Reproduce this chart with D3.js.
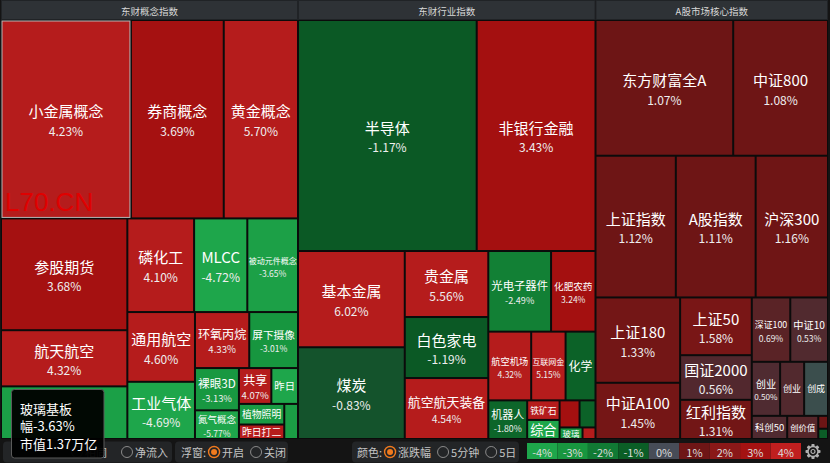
<!DOCTYPE html>
<html>
<head>
<meta charset="utf-8">
<script src="https://cdn.jsdelivr.net/npm/d3@7"></script>
<style>
html, body { margin: 0; padding: 0; background: #141414; }
svg { display: block; font-family: "Noto Sans CJK SC", "Noto Sans", sans-serif; }
</style>
</head>
<body>
<svg id="chart" width="830" height="463"></svg>
<script>
// ---- data ----
const panelTitles = ['东财概念指数', '东财行业指数', 'A股市场核心指数']

const conceptNames = ['小金属概念', '券商概念', '黄金概念', '参股期货', '航天航空', '玻璃基板', '磷化工', 'MLCC', '被动元件概念', '通用航空',
  '工业气体', '环氧丙烷', '屏下摄像', '裸眼3D', '氮气概念', '共享', '昨日', '植物照明', '昨日打二', '']
const conceptCaps = [25641, 18315, 14652, 14049, 7056, 6615, 6218, 4956, 4722, 4691,
  3848, 3024, 2716, 1848, 1254, 1155, 950, 930, 653, 479]
const conceptChg = [4.23, 3.69, 5.70, 3.68, 4.32, -3.63, 4.10, -4.72, -3.65, 4.60,
  -4.69, 4.33, -3.01, -3.13, -5.77, 4.07, -4.5, -3.3, 4.2, -3.5]

const industryNames = ['半导体', '非银行金融', '基本金属', '煤炭', '贵金属', '白色家电', '航空航天装备', '光电子器件', '化肥农药', '航空机场',
  '互联网金', '化学', '机器人', '铁矿石', '综合', '', '', '玻璃', '']
const industryCaps = [41260, 27430, 10272, 9791, 5511, 5094, 5090, 5060, 3582, 2946,
  2363, 2055, 1502, 634, 618, 540, 432, 265, 150]
const industryChg = [-1.17, 3.43, 6.02, -0.83, 5.56, -1.19, 4.54, -2.49, 3.24, 4.32,
  5.15, -1.6, -1.80, 4.2, -4.3, 3.3, -1.6, -3.0, 4.5]

const coreNames = ['东方财富全A', '中证800', '上证指数', 'A股指数', '沪深300', '上证180', '中证A100', '上证50', '国证2000', '红利指数',
  '深证100', '中证10', '创业', '创业', '创成', '科创50', '创价值', '', '']
const coreCaps = [18699, 12873, 11391, 11320, 10259, 7225, 4760, 4140, 3204, 2808,
  2480, 2430, 1530, 1300, 1290, 820, 720, 125, 100]
const coreChg = [1.07, 1.08, 1.12, 1.11, 1.16, 1.33, 1.45, 1.58, 0.56, 1.31,
  0.69, 0.53, 0.50, 0.55, -0.2, 0.52, 0.62, 1.05, -1.4]

const colorStops = [-4, -3, -2, -1, 0, 0.5, 1, 1.5, 2, 3, 3.9, 4]
const colorRange = ['#1ea64b', '#17963f', '#0e6a2c', '#0a5523', '#474c57', '#4f2b31', '#6c1515', '#761616', '#8b1818', '#a31010', '#a51111', '#b51c1c']

const legendLabels = ['-4%', '-3%', '-2%', '-1%', '0%', '1%', '2%', '3%', '4%']
const legendColors = ['#1ea64b', '#18963f', '#117a34', '#0b5e26', '#474c57', '#6e1616', '#8a1818', '#a51212', '#c01f1f']

const tipLines = ['玻璃基板', '幅-3.63%', '市值1.37万亿']
const hovered = '小金属概念'

// first group is mostly hidden behind the tooltip, only its tail shows
const ctrlGroups = [
  { label: '', opts: ['相同', '净流入'], sel: -1 },
  { label: '浮窗:', opts: ['开启', '关闭'], sel: 0 },
  { label: '颜色:', opts: ['涨跌幅', '5分钟', '5日'], sel: 0 }
]

// ---- drawing ----
const svg = d3.select('#chart')
svg.append('rect').attr('width', 830).attr('height', 463).attr('fill', '#141414')

const color = d3.scaleLinear().domain(colorStops).range(colorRange).clamp(true)

const measurer = svg.append('text').attr('x', -2000).attr('y', -2000)
const textWidth = (str, size) => {
  measurer.attr('font-size', size).text(str)
  return measurer.node().getComputedTextLength()
}

const panels = [
  { x0: 1, x1: 298, names: conceptNames, caps: conceptCaps, chg: conceptChg },
  { x0: 298, x1: 595.5, names: industryNames, caps: industryCaps, chg: industryChg },
  { x0: 595.5, x1: 828, names: coreNames, caps: coreCaps, chg: coreChg }
]
const mapTop = 20, mapBottom = 439
const tipBox = { x: 11.5, y: 389.5, w: 92.5, h: 68.5 }

const defs = svg.append('defs')

const drawLabel = (g, d, id, ox, oy) => {
  const w = d.x1 - d.x0, h = d.y1 - d.y0
  const name = d.data.name
  if (!name || w < 10 || h < 9) return
  const cx = (d.x0 + d.x1) / 2, cy = (d.y0 + d.y1) / 2
  // label sits under the tooltip, nothing of it would show
  if (cx + ox > tipBox.x && cx + ox < tipBox.x + tipBox.w && cy + oy > tipBox.y) return
  const pct = d.data.chg.toFixed(2) + '%'
  const nameEm = textWidth(name, 100) / 100
  const pctEm = textWidth(pct, 100) / 100
  let f = Math.min(15, (w - 4) / nameEm)
  let pf = Math.min(12, Math.max(8.5, f * 0.8), (w - 3) / pctEm)
  let two = pf >= 7.8
  if (two) f = Math.min(f, pf * 1.25)
  if (two && f * 1.25 + pf * 1.25 + 3 > h) {
    const f2 = (h - 3 - pf * 1.25) / 1.25
    if (f2 >= 8) f = f2
    else two = false
  }
  if (!two) f = Math.min(15, (w - 4) / nameEm)
  f = Math.max(f, 8)
  const lg = g.append('g').attr('clip-path', `url(#${id})`)
  lg.append('text')
    .attr('x', cx)
    .attr('y', two ? cy - 0.55 * f : cy)
    .attr('text-anchor', 'middle')
    .attr('dominant-baseline', 'central')
    .attr('font-size', f)
    .attr('fill', '#fff')
    .text(name)
  if (two) {
    lg.append('text')
      .attr('x', cx)
      .attr('y', cy + 0.95 * pf)
      .attr('text-anchor', 'middle')
      .attr('dominant-baseline', 'central')
      .attr('font-size', pf)
      .attr('fill', '#eee')
      .text(pct)
  }
}

panels.forEach((p, pi) => {
  const pw = p.x1 - p.x0
  // header
  svg.append('rect')
    .attr('x', p.x0 + 0.5).attr('y', 0.5)
    .attr('width', pw - 1).attr('height', 19)
    .attr('fill', '#2e3236').attr('stroke', '#202326')
  svg.append('text')
    .attr('x', p.x0 + pw / 2).attr('y', 10.5)
    .attr('text-anchor', 'middle').attr('dominant-baseline', 'central')
    .attr('font-size', 9.5).attr('fill', '#d8d8d8')
    .text(panelTitles[pi])
  svg.append('rect')
    .attr('x', p.x0).attr('y', mapTop)
    .attr('width', pw).attr('height', mapBottom - mapTop)
    .attr('fill', '#0b0b0b')

  const items = p.names.map((n, i) => ({ name: n, cap: p.caps[i], chg: p.chg[i] }))
  const root = d3.hierarchy({ children: items })
    .sum(d => d.cap || 0)
    .sort((a, b) => b.value - a.value)
  d3.treemap()
    .tile(d3.treemapSquarify)
    .size([pw, mapBottom - mapTop])
    .paddingInner(2)
    .paddingOuter(1)(root)

  const g = svg.append('g').attr('transform', `translate(${p.x0},${mapTop})`)
  root.leaves().forEach((d, i) => {
    const id = `clip-${pi}-${i}`
    defs.append('clipPath').attr('id', id)
      .append('rect')
      .attr('x', d.x0).attr('y', d.y0)
      .attr('width', d.x1 - d.x0).attr('height', d.y1 - d.y0)
    g.append('rect')
      .attr('x', d.x0).attr('y', d.y0)
      .attr('width', d.x1 - d.x0).attr('height', d.y1 - d.y0)
      .attr('fill', color(d.data.chg))
      .attr('stroke', d.data.name === hovered ? '#b8b8b8' : 'none')
      .attr('stroke-width', 1)
    drawLabel(g, d, id, p.x0, mapTop)
  })
})

// watermark
svg.append('text')
  .attr('x', 5).attr('y', 211)
  .attr('font-family', '"Liberation Sans", Arial, sans-serif')
  .attr('font-size', 26)
  .attr('fill', '#e00000')
  .text('L70.CN')

// ---- bottom bar ----
svg.append('rect').attr('x', 0).attr('y', 440).attr('width', 830).attr('height', 23).attr('fill', '#141414')
const boxX = [3, 175, 352]
const boxW = [169, 113, 167]
const boxStart = [70, 181, 357]
ctrlGroups.forEach((c, ci) => {
  const bx = boxX[ci]
  svg.append('rect')
    .attr('x', bx).attr('y', 441.5)
    .attr('width', boxW[ci]).attr('height', 21)
    .attr('rx', 4)
    .attr('fill', '#232527')
  let cursor = boxStart[ci]
  if (c.label) {
    svg.append('text')
      .attr('x', cursor).attr('y', 452)
      .attr('dominant-baseline', 'central')
      .attr('font-size', 11).attr('fill', '#c4c4c4')
      .text(c.label)
    cursor += textWidth(c.label, 11) + 1
  }
  c.opts.forEach((o, oi) => {
    const rx = cursor + 7
    if (oi === c.sel) {
      svg.append('circle').attr('cx', rx).attr('cy', 452).attr('r', 5.5)
        .attr('fill', '#232527').attr('stroke', '#f07a1e').attr('stroke-width', 1.4)
      svg.append('circle').attr('cx', rx).attr('cy', 452).attr('r', 3).attr('fill', '#f07a1e')
    } else {
      svg.append('circle').attr('cx', rx).attr('cy', 452).attr('r', 5.5)
        .attr('fill', 'none').attr('stroke', '#8a8a8a').attr('stroke-width', 1)
    }
    svg.append('text')
      .attr('x', cursor + 15).attr('y', 452)
      .attr('dominant-baseline', 'central')
      .attr('font-size', 11).attr('fill', '#c4c4c4')
      .text(o)
    cursor = cursor + 15 + textWidth(o, 11) + (ci === 0 ? 13 : 5)
  })
})

// legend
const lx = d3.scaleBand().domain(legendLabels).range([527, 801])
svg.selectAll('.leg')
  .data(legendLabels)
  .join('rect')
  .attr('class', 'leg')
  .attr('x', d => lx(d)).attr('y', 443)
  .attr('width', lx.bandwidth()).attr('height', 16)
  .attr('fill', (d, i) => legendColors[i])
svg.selectAll('.legt')
  .data(legendLabels)
  .join('text')
  .attr('class', 'legt')
  .attr('x', d => lx(d) + lx.bandwidth() / 2).attr('y', 451.5)
  .attr('text-anchor', 'middle').attr('dominant-baseline', 'central')
  .attr('font-size', 11).attr('fill', '#dcdcdc')
  .text(d => d)

// gear icon
const gear = svg.append('g').attr('transform', 'translate(813,451.5)')
d3.range(8).forEach(i => {
  gear.append('rect')
    .attr('x', -1.6).attr('y', -7.5).attr('width', 3.2).attr('height', 4)
    .attr('rx', 0.8)
    .attr('fill', '#b0b0b0')
    .attr('transform', `rotate(${i * 45})`)
})
gear.append('circle').attr('r', 5).attr('fill', '#141414').attr('stroke', '#b0b0b0').attr('stroke-width', 1.5)
gear.append('circle').attr('r', 2).attr('fill', 'none').attr('stroke', '#b0b0b0').attr('stroke-width', 1.2)

// ---- tooltip ----
svg.append('rect')
  .attr('x', tipBox.x).attr('y', tipBox.y)
  .attr('width', tipBox.w).attr('height', tipBox.h)
  .attr('rx', 3)
  .attr('fill', '#000').attr('fill-opacity', 0.95)
  .attr('stroke', '#5a5a5a')
svg.selectAll('.tip')
  .data(tipLines)
  .join('text')
  .attr('class', 'tip')
  .attr('x', 20).attr('y', (d, i) => 408 + i * 17.5)
  .attr('dominant-baseline', 'central')
  .attr('font-size', 13).attr('fill', '#fff')
  .text(d => d)

measurer.remove()
</script>
</body>
</html>
